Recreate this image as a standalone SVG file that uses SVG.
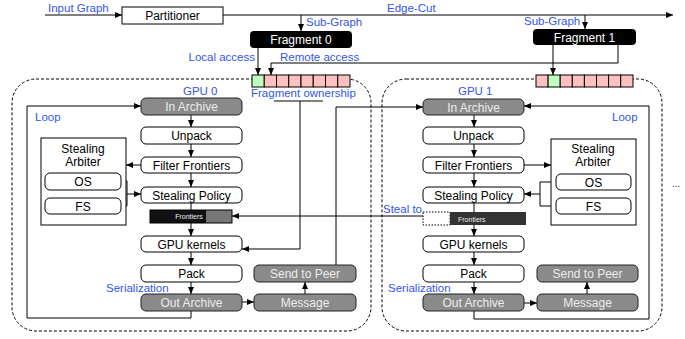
<svg xmlns="http://www.w3.org/2000/svg" width="685" height="339" viewBox="0 0 685 339">
<defs>
<marker id="ah" markerWidth="7" markerHeight="6" refX="7" refY="3" orient="auto" markerUnits="userSpaceOnUse">
<path d="M0,0 L7,3 L0,6 z" fill="#000"/>
</marker>
<style>
text{font-family:"Liberation Sans",Arial,sans-serif}
.lbl{font-size:11.5px;fill:#3355ee}
.bx{fill:#fff;stroke:#000;stroke-width:1}
.gb{fill:#8a8a8a;stroke:#222;stroke-width:1}
.t{font-size:12px;fill:#000;text-anchor:middle}
.tg{font-size:12px;fill:#ececec;text-anchor:middle}
.tw{font-size:12px;fill:#fff;text-anchor:middle}
.ln{fill:none;stroke:#000;stroke-width:1}
.ar{fill:none;stroke:#000;stroke-width:1;marker-end:url(#ah)}
.gpu{fill:none;stroke:#000;stroke-width:1;stroke-dasharray:3,2}
.pk{fill:#ffc0c0;stroke:#000;stroke-width:1}
.gr{fill:#c0ffc0;stroke:#000;stroke-width:1}
.fr{font-size:7px;fill:#eee}
</style>
</defs>
<rect width="685" height="339" fill="#fff"/>

<!-- GPU containers -->
<g id="gpu0"><rect class="gpu" x="12" y="79" width="359" height="252" rx="24"/><text class="lbl" x="183" y="95">GPU 0</text></g>
<g id="gpu1"><rect class="gpu" x="382" y="79" width="280" height="252" rx="24"/><text class="lbl" x="458" y="95">GPU 1</text></g>

<g id="connectors">
<line class="ar" x1="45" y1="15" x2="122" y2="15"/>
<line class="ar" x1="223" y1="15" x2="673" y2="15"/>
<line class="ar" x1="301" y1="15" x2="301" y2="31"/>
<line class="ar" x1="585" y1="15" x2="585" y2="29"/>
<line class="ar" x1="258" y1="48" x2="258" y2="75"/>
<polyline class="ar" points="618,45 618,63 271,63 271,75"/>
<line class="ar" x1="553" y1="45" x2="553" y2="75"/>
<line class="ln" x1="274" y1="101" x2="323" y2="101"/>
<polyline class="ar" points="300,101 300,249 242,249"/>
<polyline class="ar" points="336,265 336,107 423,107"/>
<line class="ar" x1="423" y1="216" x2="232" y2="216"/>
<!-- GPU0 column -->
<line class="ar" x1="191" y1="115" x2="191" y2="127"/>
<line class="ar" x1="191" y1="144" x2="191" y2="157"/>
<line class="ar" x1="191" y1="173" x2="191" y2="187"/>
<line class="ar" x1="191" y1="203" x2="191" y2="236"/>
<line class="ar" x1="191" y1="252" x2="191" y2="265"/>
<line class="ar" x1="191" y1="282" x2="191" y2="294"/>
<line class="ar" x1="242" y1="302" x2="254" y2="302"/>
<line class="ar" x1="305" y1="294" x2="305" y2="282"/>
<polyline class="ar" points="191,311 191,318 27,318 27,106 141,106"/>
<line class="ar" x1="141" y1="165" x2="126" y2="165"/>
<polyline class="ln" points="121,181 127,181 127,206 121,206"/>
<line class="ar" x1="127" y1="194" x2="141" y2="194"/>
<!-- GPU1 column -->
<line class="ar" x1="474" y1="115" x2="474" y2="127"/>
<line class="ar" x1="474" y1="144" x2="474" y2="157"/>
<line class="ar" x1="474" y1="173" x2="474" y2="187"/>
<line class="ar" x1="474" y1="203" x2="474" y2="236"/>
<line class="ar" x1="474" y1="252" x2="474" y2="265"/>
<line class="ar" x1="474" y1="282" x2="474" y2="294"/>
<line class="ar" x1="524" y1="303" x2="537" y2="303"/>
<line class="ar" x1="587" y1="294" x2="587" y2="282"/>
<polyline class="ar" points="474,311 474,319 649,319 649,106 524,106"/>
<line class="ar" x1="524" y1="165" x2="551" y2="165"/>
<polyline class="ln" points="556,182 540,182 540,206 556,206"/>
<line class="ar" x1="540" y1="194" x2="524" y2="194"/>
</g>

<!-- top labels -->
<text class="lbl" x="48" y="12">Input Graph</text>
<text class="lbl" x="387" y="12">Edge-Cut</text>
<text class="lbl" x="306" y="26">Sub-Graph</text>
<text class="lbl" x="524" y="25">Sub-Graph</text>
<text class="lbl" x="255" y="61" text-anchor="end">Local access</text>
<text class="lbl" x="280" y="61">Remote access</text>
<text class="lbl" x="251" y="97">Fragment ownership</text>
<text class="lbl" x="35" y="121">Loop</text>
<text class="lbl" x="612" y="121">Loop</text>
<text class="lbl" x="106" y="292">Serialization</text>
<text class="lbl" x="388" y="292">Serialization</text>
<text class="lbl" x="383" y="213">Steal to</text>
<text x="672" y="187" font-size="10" fill="#333">...</text>

<g id="partitioner"><rect class="bx" x="122" y="7" width="101" height="17"/><text class="t" x="172.5" y="20">Partitioner</text></g>
<g id="fragment0"><rect x="250" y="31" width="102" height="17" rx="4" fill="#000"/><text class="tw" x="301" y="44">Fragment 0</text></g>
<g id="fragment1"><rect x="533" y="29" width="103" height="16" rx="4" fill="#000"/><text class="tw" x="584.5" y="41.5">Fragment 1</text></g>

<g id="ownership0">
<rect class="gr" x="252" y="75" width="12.25" height="12"/>
<rect class="pk" x="264.25" y="75" width="12.25" height="12"/>
<rect class="pk" x="276.5" y="75" width="12.25" height="12"/>
<rect class="pk" x="288.75" y="75" width="12.25" height="12"/>
<rect class="pk" x="301" y="75" width="12.25" height="12"/>
<rect class="pk" x="313.25" y="75" width="12.25" height="12"/>
<rect class="pk" x="325.5" y="75" width="12.25" height="12"/>
<rect class="pk" x="337.75" y="75" width="12.25" height="12"/>
</g>
<g id="ownership1">
<rect class="pk" x="536" y="75" width="12.1" height="12"/>
<rect class="gr" x="548.1" y="75" width="12.1" height="12"/>
<rect class="pk" x="560.2" y="75" width="12.1" height="12"/>
<rect class="pk" x="572.3" y="75" width="12.1" height="12"/>
<rect class="pk" x="584.4" y="75" width="12.1" height="12"/>
<rect class="pk" x="596.5" y="75" width="12.1" height="12"/>
<rect class="pk" x="608.6" y="75" width="12.1" height="12"/>
<rect class="pk" x="620.7" y="75" width="12.3" height="12"/>
</g>

<!-- GPU 0 nodes -->
<g id="inarchive0"><rect class="gb" x="141" y="98" width="101" height="17" rx="5"/><text class="tg" x="191.5" y="111">In Archive</text></g>
<g id="unpack0"><rect class="bx" x="141" y="127" width="101" height="17" rx="5"/><text class="t" x="191.5" y="140">Unpack</text></g>
<g id="filter0"><rect class="bx" x="141" y="157" width="101" height="16" rx="5"/><text class="t" x="191.5" y="169.5">Filter Frontiers</text></g>
<g id="policy0"><rect class="bx" x="141" y="187" width="101" height="16" rx="5"/><text class="t" x="191.5" y="199.5">Stealing Policy</text></g>
<g id="frontiers0"><rect x="150" y="210" width="56" height="13" fill="#111"/><rect x="206" y="210" width="26" height="13" fill="#777"/><rect x="150" y="210" width="82" height="13" fill="none" stroke="#000"/><text class="fr" x="189" y="219" text-anchor="middle">Frontiers</text></g>
<g id="kernels0"><rect class="bx" x="141" y="236" width="101" height="16" rx="5"/><text class="t" x="191.5" y="248.5">GPU kernels</text></g>
<g id="pack0"><rect class="bx" x="141" y="265" width="101" height="17" rx="5"/><text class="t" x="191.5" y="278">Pack</text></g>
<g id="outarchive0"><rect class="gb" x="141" y="294" width="101" height="17" rx="5"/><text class="tg" x="191.5" y="307">Out Archive</text></g>
<g id="sendpeer0"><rect class="gb" x="254" y="265" width="102" height="17" rx="5"/><text class="tg" x="305" y="278">Send to Peer</text></g>
<g id="message0"><rect class="gb" x="254" y="294" width="102" height="17" rx="5"/><text class="tg" x="305" y="307">Message</text></g>
<g id="arbiter0"><rect class="bx" x="41" y="138" width="85" height="87"/><text class="t" x="83" y="153">Stealing</text><text class="t" x="83" y="166">Arbiter</text></g>
<g id="os0"><rect class="bx" x="45" y="173" width="76" height="17" rx="5"/><text class="t" x="83" y="186">OS</text></g>
<g id="fs0"><rect class="bx" x="45" y="198" width="76" height="16" rx="5"/><text class="t" x="83" y="210.5">FS</text></g>

<!-- GPU 1 nodes -->
<g id="inarchive1"><rect class="gb" x="423" y="99" width="101" height="16" rx="5"/><text class="tg" x="473.5" y="111.5">In Archive</text></g>
<g id="unpack1"><rect class="bx" x="423" y="127" width="101" height="17" rx="5"/><text class="t" x="473.5" y="140">Unpack</text></g>
<g id="filter1"><rect class="bx" x="423" y="157" width="101" height="16" rx="5"/><text class="t" x="473.5" y="169.5">Filter Frontiers</text></g>
<g id="policy1"><rect class="bx" x="423" y="187" width="101" height="16" rx="5"/><text class="t" x="473.5" y="199.5">Stealing Policy</text></g>
<g id="frontiers1"><rect x="423" y="212" width="27" height="13" fill="none" stroke="#000" stroke-dasharray="1.5,1.5"/><rect x="450" y="212" width="76" height="13" fill="#333"/><text class="fr" x="458" y="221.5">Frontiers</text></g>
<g id="kernels1"><rect class="bx" x="423" y="236" width="101" height="16" rx="5"/><text class="t" x="473.5" y="248.5">GPU kernels</text></g>
<g id="pack1"><rect class="bx" x="423" y="265" width="101" height="17" rx="5"/><text class="t" x="473.5" y="278">Pack</text></g>
<g id="outarchive1"><rect class="gb" x="423" y="294" width="101" height="17" rx="5"/><text class="tg" x="473.5" y="307">Out Archive</text></g>
<g id="sendpeer1"><rect class="gb" x="537" y="265" width="101" height="17" rx="5"/><text class="tg" x="587.5" y="278">Send to Peer</text></g>
<g id="message1"><rect class="gb" x="537" y="294" width="101" height="17" rx="5"/><text class="tg" x="587.5" y="307">Message</text></g>
<g id="arbiter1"><rect class="bx" x="551" y="139" width="85" height="86"/><text class="t" x="593" y="153">Stealing</text><text class="t" x="593" y="166">Arbiter</text></g>
<g id="os1"><rect class="bx" x="556" y="174" width="75" height="16" rx="5"/><text class="t" x="593.5" y="186.5">OS</text></g>
<g id="fs1"><rect class="bx" x="556" y="198" width="75" height="16" rx="5"/><text class="t" x="593.5" y="210.5">FS</text></g>
</svg>
